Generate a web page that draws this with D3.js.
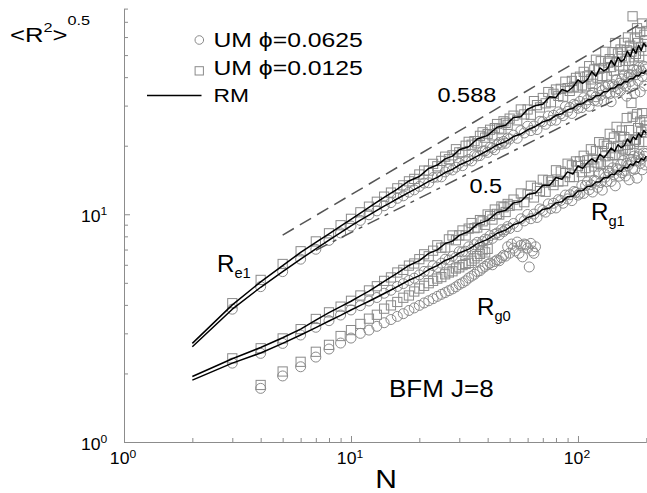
<!DOCTYPE html>
<html><head><meta charset="utf-8">
<script src="https://cdn.jsdelivr.net/npm/d3@7/dist/d3.min.js"></script>
<style>
body{margin:0;background:#fff}
svg{display:block}
text{font-family:"Liberation Sans",Arial,Helvetica,sans-serif;fill:#000}
</style>
</head><body>
<svg id="chart" width="647" height="493"></svg>
<script>
// ---------- DATA ----------
const nLine=[2,3,4,5,6,7,8,9,10,11,12,13,14,15,16,18,20,22,24,26,28,30,33,36,40,44,48,52,56,60,65,70,75,80,85,90,95,100,105,110,115,120,125,130,135,140,145,150,155,160,165,170,175,180,185,190,195,200];
const re1LineA=[2.71,4.00,5.05,5.95,6.80,7.52,8.20,8.87,9.50,10.12,10.72,11.30,11.85,12.38,12.90,14.0,14.65,15.9,16.45,17.5,18.0,19.2,19.8,21.4,22.2,24.1,24.6,26.6,26.8,28.9,30.0,30.4,32.8,32.6,35.3,34.6,36.2,38.9,37.6,39.0,42.3,40.4,43.9,42.6,43.6,47.4,45.0,48.9,46.8,48.0,52.0,49.3,53.4,50.9,55.2,52.4,56.4,54.4];
const re1LineB=[2.62,3.83,4.78,5.60,6.35,7.05,7.70,8.31,8.90,9.42,9.92,10.40,10.85,11.28,11.70,12.47,13.20,13.95,14.52,15.25,15.75,16.45,17.15,18.0,19.05,20.15,20.85,21.95,22.5,23.5,24.3,25.45,26.0,27.2,27.65,28.75,29.2,30.35,30.6,31.75,32.0,33.15,33.3,34.5,34.6,35.8,35.85,37.0,37.0,38.25,38.2,39.45,39.4,40.65,40.5,41.8,41.6,42.9];
const rg1LineA=[1.94,2.32,2.60,2.87,3.13,3.43,3.70,3.93,4.15,4.38,4.60,4.84,5.07,5.30,5.51,5.96,6.26,6.73,6.98,7.44,7.62,8.08,8.40,9.05,9.40,10.18,10.40,11.22,11.38,12.2,12.4,13.40,13.40,14.5,14.25,15.35,15.0,16.3,15.9,16.85,17.5,17.0,18.35,17.7,18.55,19.55,18.9,20.2,19.6,20.0,21.4,20.6,21.9,21.3,22.7,21.9,23.3,22.7];
const rg1LineB=[1.87,2.22,2.46,2.71,2.95,3.18,3.40,3.60,3.80,3.98,4.15,4.32,4.49,4.65,4.81,5.13,5.38,5.72,5.95,6.27,6.45,6.76,7.03,7.43,7.76,8.25,8.52,9.0,9.22,9.68,9.93,10.5,10.65,11.22,11.35,11.95,12.0,12.65,12.7,13.25,13.3,13.85,13.9,14.45,14.45,15.0,14.95,15.55,15.45,16.1,15.95,16.6,16.4,17.05,16.85,17.55,17.3,18.0];

const nMark=[3,4,5,6,7,8,9,10,11,12,13,14,15,16,17,18,19,20,21,22,23,24,25,26,27,28,29,30,31,32,33,34,35,36,37,38,39,40,41,42,43,44,45,46,47,48,49,50,
52,54,56,58,60,62,64,66,68,70,72,74,76,78,80,82,84,86,88,90,92,94,96,98,100,
102,104,106,108,110,112,114,116,118,120,122,124,126,128,130,132,134,136,138,140,142,144,146,148,150,152,154,156,158,160,162,164,166,168,170,172,174,176,178,180,182,184,186,188,190,192,194,196,198,200];
const re1Sq=[4.07,5.15,6.05,6.88,7.6,8.25,8.95,9.55,10.2,10.8,11.35,11.95,12.45,13.0,13.4,13.95,14.3,14.95,
15.55,15.55,16.65,16.25,17.15,17.9,17.45,18.15,19.3,18.7,18.7,20.0,20.8,20.2,20.95,20.5,22.1,22.9,21.7,22.5,23.5,22.2,23.9,24.9,23.8,23.6,25.6,25.2,24.7,26.3,
27.1,25.85,28.85,27.45,28.85,27.35,31.4,30.15,29.45,32.4,30.7,34.4,31.05,33.8,35.3,33.1,35.55,32.85,38.2,35.8,34.8,38.5,36.35,39.7,36.0,
40.2,36.8,42.2,36.4,40.3,44.7,39.1,37.4,43.2,47.7,39.8,43.6,47.0,40.5,43.9,51.7,40.2,46.3,48.0,44.3,51.5,42.7,56.5,46.65,50.8,45.0,52.9,49.5,44.5,56.6,47.2,52.5,59.8,47.1,55.0,51.8,74.0,48.9,59.1,50.6,65.6,56.5,49.4,63.1,54.3,68.8,52.3,61.4,57.9,63.8];
const re1Ci=[3.83,4.81,5.60,6.35,7.02,7.68,8.28,8.88,9.40,9.95,10.35,10.9,11.25,11.75,12.05,12.5,12.8,13.25,
13.7,13.75,14.5,14.57,14.6,15.35,15.8,15.65,16.1,16.75,16.35,17.15,17.4,17.15,18.1,18.03,18.1,18.95,19.0,18.7,19.7,19.56,19.2,20.2,20.65,20.3,20.9,20.5,21.6,21.4,
22.25,21.55,23.3,22.75,24.35,23.3,24.4,23.55,25.6,25.5,24.85,27.0,25.8,27.2,25.9,28.15,27.63,27.1,29.7,28.3,29.45,27.7,30.4,30.1,29.2,
31.3,29.4,32.5,30.6,31.8,29.8,33.3,34.2,31.6,32.8,31.4,35.7,33.3,34.9,31.5,36.2,34.0,37.0,33.8,31.2,37.1,36.3,34.4,39.0,35.6,37.6,34.9,39.3,37.3,40.9,36.6,33.0,39.8,41.1,38.3,40.9,36.7,43.3,34.0,41.0,42.9,38.6,44.2,34.5,42.6,40.3,44.7,36.6,44.4,43.4];
const rg1Sq=[2.33,2.58,2.85,3.13,3.47,3.71,3.93,4.17,4.40,4.63,4.83,5.10,5.28,5.55,5.70,5.95,6.08,6.35,
6.67,6.54,6.92,7.31,7.13,7.15,7.76,8.07,7.69,8.08,8.49,8.07,8.65,9.15,8.69,8.75,9.43,9.31,8.99,9.98,9.83,9.48,10.49,10.04,9.97,10.82,10.73,10.23,11.1,10.9,
11.6,10.96,12.34,11.3,12.24,13.34,11.85,13.07,12.64,14.18,12.55,14.1,13.9,13.43,15.6,13.93,15.4,13.97,15.16,16.67,14.57,16.41,14.57,17.06,16.27,
17.08,15.31,18.07,15.95,17.26,15.42,19.29,17.42,16.21,18.97,16.86,20.73,16.63,18.94,20.38,17.98,19.98,16.96,22.55,19.5,18.13,21.73,18.21,24.2,19.87,18.23,21.96,23.32,19.44,21.83,19.09,26.45,20.17,23.43,19.16,30.8,26.8,20.4,21.2,21.27,27.5,23.9,20.8,25.5,23.0,27.8,20.8,25.9,23.5,24.5];
const rg1Ci=[2.22,2.45,2.71,2.95,3.19,3.41,3.61,3.80,3.97,4.16,4.31,4.50,4.64,4.82,4.96,5.12,5.24,5.42,
5.61,5.63,5.95,5.85,6.1,6.35,6.3,6.54,6.47,6.85,6.84,6.88,7.2,7.03,7.35,7.53,7.34,7.59,7.78,7.72,8.06,7.84,8.17,8.27,8.12,8.55,8.4,8.57,8.83,8.66,
9.11,8.83,9.55,9.35,9.98,9.56,10.02,9.68,10.55,10.4,10.22,11.11,10.6,11.18,10.66,11.59,11.5,11.18,12.14,11.68,12.18,11.48,12.59,12.48,12.13,
12.37,13.38,12.35,13.37,13.89,12.82,13.47,12.52,14.12,13.97,13.13,15.06,13.78,12.76,15.02,14.55,13.93,15.5,15.17,13.94,15.99,14.9,13.33,15.87,15.68,14.7,16.51,15.22,17.21,15.58,14.72,16.73,16.35,14.16,17.36,16.96,15.91,17.99,15.75,17.19,14.41,17.89,18.34,16.71,17.5,15.68,18.57,17.96,16.47,18.51];

const nRg0Sq=[4,5,6,7,8,9,10,11,12,13,14,15,16,17,18,19,20,21,22,23,24,25,26,27,28,29,30,31,32,33,34,35,36,37,38,39,40];
const rg0Sq=[1.78,2.04,2.25,2.49,2.67,2.92,3.10,3.30,3.48,3.62,3.85,3.98,4.12,4.30,4.40,4.58,4.72,4.85,4.98,5.10,5.22,5.30,5.45,5.55,5.62,5.78,5.85,5.98,6.05,6.12,6.25,6.40,6.55,6.70,6.95,6.80,7.05];
const nRg0Ci=[4,5,6,7,8,9,10,11,12,13,14,15,16,17,18,19,20,21,22,23,24,25,26,27,28,29,30,31,32,33,34,35,36,37,38,39,40,41,42,43,44,45,46,47,48,49,50,51,52,53,54,55,56,57,58,59,60,61,62,63,64,65];
const rg0Ci=[1.72,1.95,2.14,2.36,2.56,2.72,2.86,3.00,3.10,3.22,3.34,3.45,3.56,3.66,3.78,3.88,3.98,4.08,4.17,4.26,4.36,4.45,4.53,4.62,4.70,4.80,4.92,5.00,5.10,5.25,5.35,5.45,5.60,5.65,5.80,5.90,6.02,6.10,6.00,6.20,6.30,6.25,6.45,6.60,6.55,7.20,6.75,7.40,7.10,6.90,7.55,6.74,7.30,6.50,7.40,7.33,7.10,5.87,7.45,6.90,6.74,7.20];

const refN588=[5,200], ref588=[8.1,71.0];
const refN05=[7,200], ref05=[6.95,37.3];

const xMajor=[1,10,100], xMinor=[2,3,4,5,6,7,8,9,20,30,40,50,60,70,80,90,200];
const yMajor=[1,10], yMinor=[2,3,4,5,6,7,8,9,20,30,40,50,60,70,80];
const xTickExp=["0","1","2"], yTickExp=["0","1"];
const legendLabels=["UM \u03D5=0.0625","UM \u03D5=0.0125","RM"];

// ---------- CHART ----------
const svg=d3.select("#chart");
const x=d3.scaleLog().domain([1,200]).range([124,646.3]);
const y=d3.scaleLog().domain([1,80]).range([442,8.6]);
const AX="#8c8c8c", MK="#8a8a8a";

// stretched text helper (the original lettering is slightly wide)
function stext(px,py,size,sx,anchor){
  return svg.append("g").attr("transform",`translate(${px},${py}) scale(${sx},1)`)
    .append("text").attr("x",0).attr("y",0).attr("text-anchor",anchor||"start").style("font-size",size+"px");
}

// axes
const gx=svg.append("g").attr("transform","translate(0,442)");
gx.call(d3.axisBottom(x).tickValues(xMajor).tickSize(-6).tickSizeOuter(0).tickFormat(""));
const gx2=svg.append("g").attr("transform","translate(0,442)");
gx2.call(d3.axisBottom(x).tickValues(xMinor).tickSize(-4).tickSizeOuter(0).tickFormat(""));
gx2.select(".domain").remove();
const gy=svg.append("g").attr("transform","translate(124,0)");
gy.call(d3.axisLeft(y).tickValues(yMajor).tickSize(-6).tickSizeOuter(0).tickFormat(""));
const gy2=svg.append("g").attr("transform","translate(124,0)");
gy2.call(d3.axisLeft(y).tickValues(yMinor).tickSize(-4).tickSizeOuter(0).tickFormat(""));
gy2.select(".domain").remove();
svg.selectAll(".domain,.tick line").attr("stroke",AX).attr("stroke-width",1);

// tick labels
xMajor.forEach((v,i)=>{
  const t=stext(x(v)-1,464,16,1.1,"middle");
  t.append("tspan").text("10");
  t.append("tspan").attr("dy",-6.5).style("font-size","11px").text(xTickExp[i]);
});
yMajor.forEach((v,i)=>{
  const t=stext(81,y(v)+7.5,16,1.1,"start");
  t.append("tspan").text("10");
  t.append("tspan").attr("dy",-6.5).style("font-size","11px").text(yTickExp[i]);
});

// axis titles
stext(386,488,25,1.2,"middle").text("N");
const yt=stext(10,41.5,20.5,1.25,"start");
yt.append("tspan").text("<R");
yt.append("tspan").attr("dy",-9.5).style("font-size","13px").text("2");
yt.append("tspan").attr("dy",9.5).text(">");
yt.append("tspan").attr("dy",-16.5).style("font-size","13px").text("0.5");

// clip
svg.append("clipPath").attr("id","clip").append("rect").attr("x",124).attr("y",0).attr("width",523).attr("height",442);
const plot=svg.append("g").attr("clip-path","url(#clip)");

function circles(ns,vs){
  plot.append("g").selectAll("circle").data(ns.map((n,i)=>[n,vs[i]])).join("circle")
    .attr("cx",d=>x(d[0])).attr("cy",d=>y(d[1])).attr("r",5)
    .attr("fill","none").attr("stroke",MK).attr("stroke-width",1);
}
function squares(ns,vs){
  plot.append("g").selectAll("rect").data(ns.map((n,i)=>[n,vs[i]])).join("rect")
    .attr("x",d=>x(d[0])-4.6).attr("y",d=>y(d[1])-4.6).attr("width",9.2).attr("height",9.2)
    .attr("fill","none").attr("stroke",MK).attr("stroke-width",1);
}
circles(nRg0Ci,rg0Ci); squares(nRg0Sq,rg0Sq);
circles(nMark,rg1Ci); squares(nMark,rg1Sq);
circles(nMark,re1Ci); squares(nMark,re1Sq);

const line=d3.line().x(d=>x(d[0])).y(d=>y(d[1]));
function drawLine(ns,vs,opts){
  plot.append("path").datum(ns.map((n,i)=>[n,vs[i]])).attr("d",line)
    .attr("fill","none").attr("stroke",opts.c).attr("stroke-width",opts.w)
    .attr("stroke-dasharray",opts.dash||null).attr("stroke-linejoin","round");
}
[re1LineA,re1LineB,rg1LineA,rg1LineB].forEach(v=>drawLine(nLine,v,{c:"#000",w:1.5}));
drawLine(refN588,ref588,{c:"#555",w:1.5,dash:"13,7"});
drawLine(refN05,ref05,{c:"#555",w:1.5,dash:"13,6,4,6"});

// legend
svg.append("circle").attr("cx",199.3).attr("cy",40).attr("r",4.3).attr("fill","none").attr("stroke",MK);
svg.append("rect").attr("x",195.1).attr("y",66.7).attr("width",8.3).attr("height",8.3).attr("fill","none").attr("stroke",MK);
svg.append("line").attr("x1",147).attr("x2",201.5).attr("y1",95.5).attr("y2",95.5).attr("stroke","#000").attr("stroke-width",1.5);
[[46.7,19.5,1.27],[75,19.5,1.27],[102,19,1.2]].forEach((d,i)=>stext(213.5,d[0],d[1],d[2],"start").text(legendLabels[i]));

// annotations
stext(437.5,102,21,1.12,"start").text("0.588");
stext(469.5,193,21,1.12,"start").text("0.5");
stext(389,397,23,1.13,"start").text("BFM J=8");
function rlab(xx,yy,sub){
  const t=stext(xx,yy,23,1.05,"start");
  t.append("tspan").text("R");
  t.append("tspan").attr("dy",6).style("font-size","14px").text(sub);
}
rlab(217,272,"e1"); rlab(591,220,"g1"); rlab(477,315,"g0");
</script>
</body></html>
